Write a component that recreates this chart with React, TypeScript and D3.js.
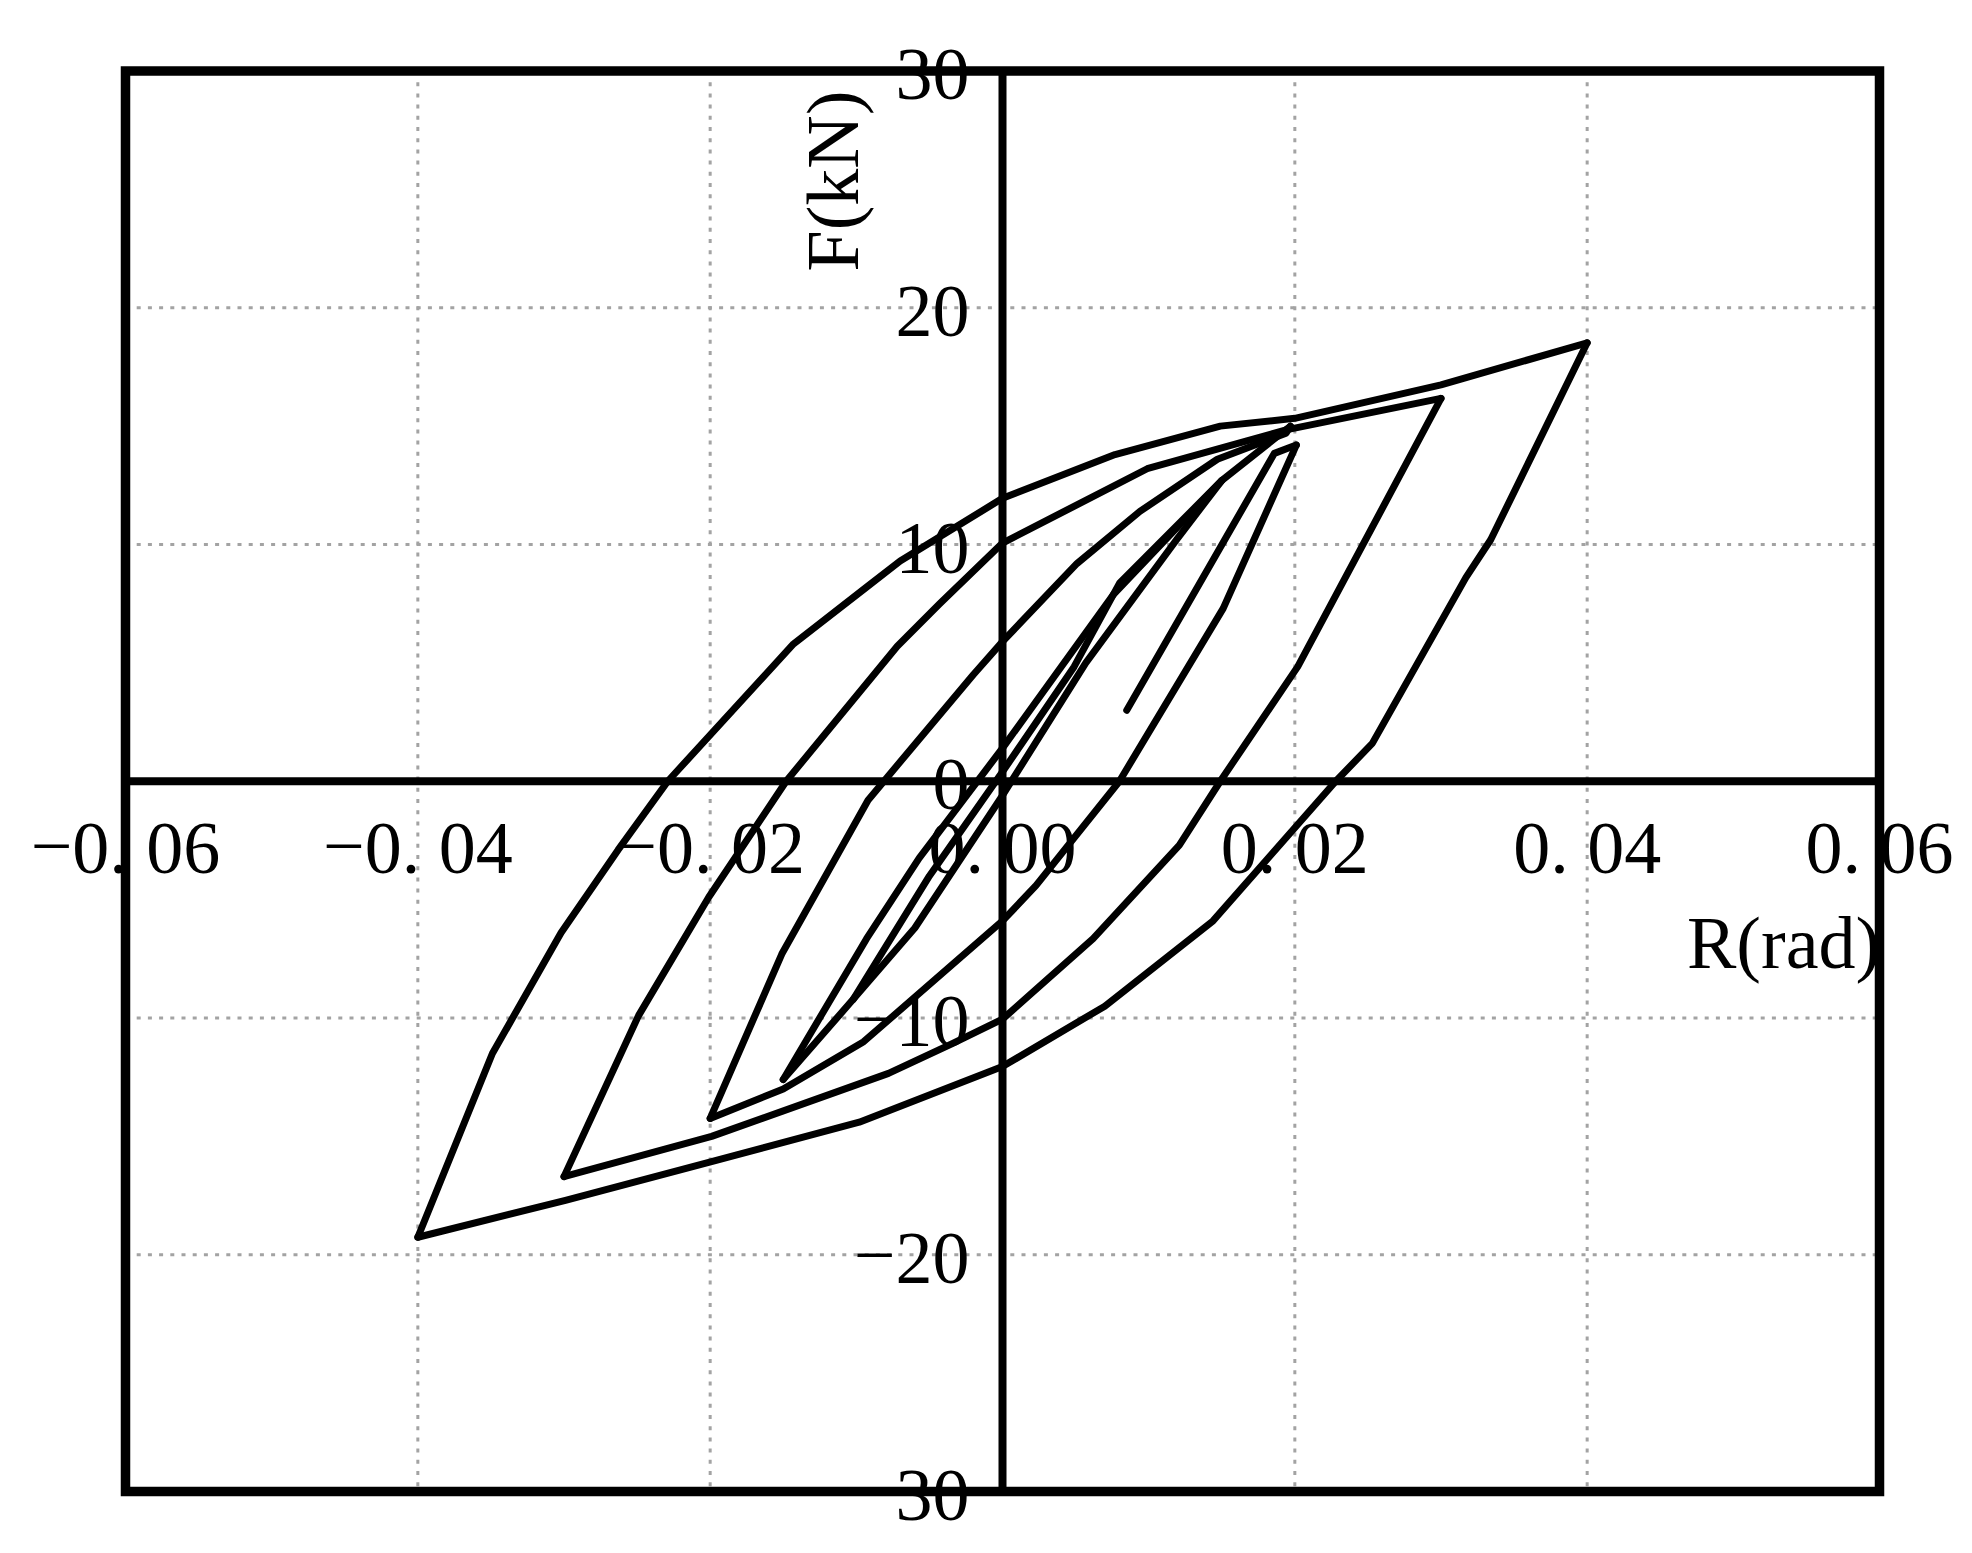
import React, { useEffect, useRef } from "react";
import * as d3 from "d3";

type Pt = [number, number];

// R (rad), F (kN) pairs
const firstBranch: Pt[] = [
  [0.0085, 3.0], [0.0186, 13.85], [0.0201, 14.2],
];
const cycle20Down: Pt[] = [
  [0.0201, 14.2], [0.0151, 7.3], [0.008, 0.0], [0.0023, -4.4], [0.0, -5.9],
  [-0.0095, -11.0], [-0.015, -13.0], [-0.02, -14.24],
];
const cycle20Up: Pt[] = [
  [-0.02, -14.24], [-0.0151, -7.3], [-0.0092, -0.8], [-0.002, 4.5], [0.0, 5.9],
  [0.0051, 9.2], [0.0094, 11.4], [0.0147, 13.6], [0.0194, 14.7], [0.0197, 15.0],
];
const innerUp: Pt[] = [
  [-0.015, -12.6], [-0.0093, -6.65], [-0.0057, -3.25], [0.0, 1.4], [0.0076, 7.9], [0.015, 12.7],
];
const innerDown: Pt[] = [
  [0.015, 12.7], [0.0119, 10.2], [0.0057, 5.0], [0.0, -0.6], [-0.006, -6.2],
  [-0.0102, -9.2], [-0.015, -12.6],
];
const smallCycle: Pt[] = [
  [-0.0102, -9.2], [-0.005, -4.0], [0.0, 0.4], [0.0049, 4.84], [0.008, 8.36], [0.015, 12.7],
  [0.0197, 15.0],
];
const cycle30Down: Pt[] = [
  [0.03, 16.17], [0.0202, 4.84], [0.0149, 0.0], [0.0121, -2.7], [0.0062, -6.65], [0.0, -10.05],
  [-0.0034, -11.07], [-0.0078, -12.34], [-0.0199, -15.0], [-0.03, -16.7],
];
const cycle30Up: Pt[] = [
  [-0.03, -16.7], [-0.0249, -9.9], [-0.0201, -4.9], [-0.0148, 0.0], [-0.0072, 5.7],
  [-0.0043, 7.5], [0.0, 10.06], [0.0099, 13.2], [0.0194, 14.84], [0.03, 16.17],
];
const cycle40Down: Pt[] = [
  [0.04, 18.52], [0.0334, 10.2], [0.0317, 8.6], [0.0253, 1.6], [0.0228, 0.0], [0.0144, -5.9],
  [0.007, -9.5], [0.0, -12.05], [-0.0098, -14.4], [-0.0201, -16.1], [-0.0299, -17.7], [-0.04, -19.26],
];
const cycle40Up: Pt[] = [
  [-0.04, -19.26], [-0.0349, -11.5], [-0.0302, -6.4], [-0.0263, -2.9], [-0.0229, 0.0],
  [-0.0143, 5.8], [-0.0093, 8.2], [-0.007, 9.3], [0.0, 11.95], [0.0077, 13.8], [0.0149, 15.0],
  [0.02, 15.33], [0.03, 16.74], [0.04, 18.52],
];
const branches: Pt[][] = [
  firstBranch, cycle20Down, cycle20Up, innerUp, innerDown, smallCycle,
  cycle30Down, cycle30Up, cycle40Down, cycle40Up,
];

const xTicks = [-0.06, -0.04, -0.02, 0.0, 0.02, 0.04, 0.06];
const yTicks = [-30, -20, -10, 0, 10, 20, 30];
const xGrid = [-0.04, -0.02, 0.02, 0.04];
const yGrid = [-20, -10, 10, 20];

const W = 1972;
const H = 1553;
const FONT = "'Liberation Serif', 'Times New Roman', serif";

function xBody(v: number): string {
  return Math.abs(v).toFixed(2).replace(".", ". ");
}
function yBody(v: number): string {
  return Math.abs(v).toString();
}

export default function App() {
  const ref = useRef<SVGSVGElement | null>(null);

  useEffect(() => {
    const svg = d3.select(ref.current);
    svg.selectAll("*").remove();

    const x = d3.scaleLinear().domain([-0.06, 0.06]).range([125.5, 1879.5]);
    const y = d3.scaleLinear().domain([-30, 30]).range([1491.5, 71]);

    svg.append("rect").attr("width", W).attr("height", H).attr("fill", "#fff");

    const g = svg.append("g");

    // grid
    g.selectAll("line.gx")
      .data(xGrid)
      .join("line")
      .attr("x1", (d) => x(d))
      .attr("x2", (d) => x(d))
      .attr("y1", y(30))
      .attr("y2", y(-30))
      .attr("stroke", "#a3a3a3")
      .attr("stroke-width", 3)
      .attr("stroke-dasharray", "4 7.2");
    g.selectAll("line.gy")
      .data(yGrid)
      .join("line")
      .attr("x1", x(-0.06))
      .attr("x2", x(0.06))
      .attr("y1", (d) => y(d))
      .attr("y2", (d) => y(d))
      .attr("stroke", "#a3a3a3")
      .attr("stroke-width", 3)
      .attr("stroke-dasharray", "4 7.2");

    const addLabel = (
      sel: d3.Selection<SVGTextElement, number, SVGGElement, unknown>,
      body: (v: number) => string
    ) => {
      sel.each(function (d) {
        const t = d3.select(this);
        if (d < 0) {
          t.append("tspan").attr("dy", -2.5).text("\u2212");
          t.append("tspan").attr("dy", 2.5).text(body(d));
        } else {
          t.text(body(d));
        }
      });
    };

    // tick labels
    const xt = g
      .selectAll<SVGTextElement, number>("text.xt")
      .data(xTicks)
      .join("text")
      .attr("class", "xt")
      .attr("x", (d) => x(d))
      .attr("y", y(0) + 92)
      .attr("text-anchor", "middle")
      .attr("font-family", FONT)
      .attr("font-size", 74)
      .attr("fill", "#000");
    addLabel(xt as any, xBody);

    const yt = g
      .selectAll<SVGTextElement, number>("text.yt")
      .data(yTicks)
      .join("text")
      .attr("class", "yt")
      .attr("x", x(0) - 33)
      .attr("y", (d) => y(d) + 28)
      .attr("text-anchor", "end")
      .attr("font-family", FONT)
      .attr("font-size", 74)
      .attr("fill", "#000");
    addLabel(yt as any, yBody);

    // axis titles
    g.append("text")
      .attr("x", 1687)
      .attr("y", 968)
      .attr("font-family", FONT)
      .attr("font-size", 74)
      .attr("fill", "#000")
      .text("R(rad)");
    g.append("text")
      .attr("transform", `translate(858,181) rotate(-90)`)
      .attr("text-anchor", "middle")
      .attr("font-family", FONT)
      .attr("font-size", 74)
      .attr("fill", "#000")
      .text("F(kN)");

    // zero axes
    g.append("line")
      .attr("x1", x(-0.06)).attr("x2", x(0.06))
      .attr("y1", y(0)).attr("y2", y(0))
      .attr("stroke", "#000").attr("stroke-width", 8);
    g.append("line")
      .attr("x1", x(0)).attr("x2", x(0))
      .attr("y1", y(30)).attr("y2", y(-30))
      .attr("stroke", "#000").attr("stroke-width", 8);

    // data
    const line = d3
      .line<Pt>()
      .x((d) => x(d[0]))
      .y((d) => y(d[1]));
    g.selectAll("path.curve")
      .data(branches)
      .join("path")
      .attr("class", "curve")
      .attr("d", (d) => line(d) as string)
      .attr("fill", "none")
      .attr("stroke", "#000")
      .attr("stroke-width", 7)
      .attr("stroke-linejoin", "round")
      .attr("stroke-linecap", "round");

    // frame
    g.append("rect")
      .attr("x", x(-0.06))
      .attr("y", y(30))
      .attr("width", x(0.06) - x(-0.06))
      .attr("height", y(-30) - y(30))
      .attr("fill", "none")
      .attr("stroke", "#000")
      .attr("stroke-width", 9.5);
  }, []);

  return (
    <svg
      ref={ref}
      width={W}
      height={H}
      style={{ position: "absolute", left: 0, top: 0, display: "block" }}
    />
  );
}
